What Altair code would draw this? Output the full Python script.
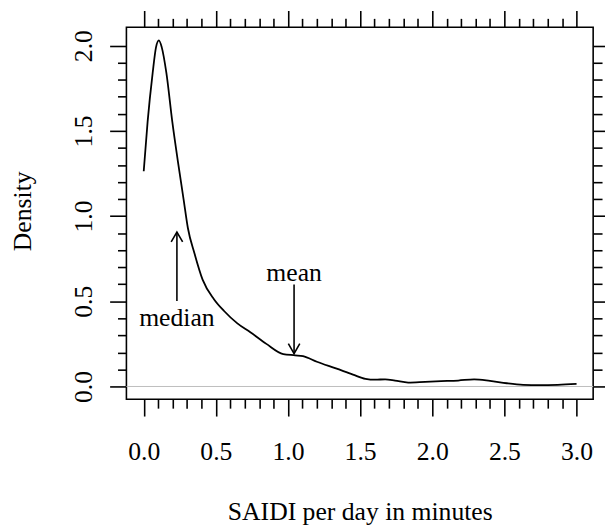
import altair as alt
import pandas as pd

# Density curve
saidi_x = [0.0, 0.027, 0.062, 0.085, 0.105, 0.125, 0.157, 0.198, 0.237, 0.276, 0.306,
           0.352, 0.408, 0.488, 0.557, 0.649, 0.739, 0.85, 0.967, 1.05, 1.104, 1.2,
           1.332, 1.45, 1.537, 1.605, 1.673, 1.742, 1.833, 1.95, 2.061, 2.18, 2.29,
           2.4, 2.517, 2.63, 2.745, 2.87, 3.0]
density = [1.263, 1.554, 1.84, 1.99, 2.031, 1.99, 1.84, 1.554, 1.32, 1.10, 0.93,
           0.78, 0.627, 0.511, 0.443, 0.37, 0.318, 0.25, 0.19, 0.183, 0.178, 0.145,
           0.106, 0.07, 0.045, 0.04, 0.042, 0.035, 0.023, 0.027, 0.031, 0.035, 0.042,
           0.033, 0.019, 0.01, 0.008, 0.01, 0.015]

# Annotations
ann_label = ["median", "mean"]
ann_x = [0.23, 1.042]
ann_tail = [0.501, 0.598]
ann_head = [0.906, 0.193]
ann_text_y = [0.357, 0.617]
ann_head_shape = ["M -0.58 1 L 0 0 L 0.58 1", "M -0.58 -1 L 0 0 L 0.58 -1"]

x_ticks = [round(i * 0.1, 1) for i in range(31)]
y_ticks = [round(i * 0.1, 1) for i in range(21)]

FONT = "Liberation Serif"
FS = 26
major_test = "abs(round(datum.value*10)) % 5 === 0"
tick_size = {"condition": {"test": major_test, "value": 17}, "value": 9}
label_expr = f"{major_test} ? format(datum.value, '.1f') : ''"

curve_df = pd.DataFrame({"x": saidi_x, "d": density})
ann_df = pd.DataFrame({"label": ann_label, "x": ann_x, "tail": ann_tail,
                       "head": ann_head, "ty": ann_text_y, "shape": ann_head_shape})
zero_df = pd.DataFrame({"z": [0.0]})

xs = alt.Scale(domain=[-0.12, 3.115], nice=False, zero=False)
ys = alt.Scale(domain=[-0.075, 2.108], nice=False, zero=False)

common_axis = dict(domain=False, grid=False, tickColor="black", tickWidth=1.6,
                   tickSize=tick_size, labelOverlap=False, labelFlush=False)

x_bottom = alt.Axis(values=x_ticks, labelExpr=label_expr, orient="bottom",
                    labelFont=FONT, labelFontSize=FS, labelColor="black",
                    labelPadding=23, labelBaseline="top",
                    title="SAIDI per day in minutes", titleFont=FONT, titleFontSize=FS,
                    titleFontWeight="normal", titleColor="black", titleY=122,
                    titleBaseline="alphabetic", **common_axis)
y_left = alt.Axis(values=y_ticks, labelExpr=label_expr, orient="left",
                  labelFont=FONT, labelFontSize=FS, labelColor="black",
                  labelAngle=270, labelAlign="center", labelBaseline="alphabetic",
                  labelPadding=18,
                  title="Density", titleFont=FONT, titleFontSize=FS,
                  titleFontWeight="normal", titleColor="black", titleAngle=270,
                  titleX=-97, titleY=186, titleBaseline="alphabetic", titleAlign="center",
                  **common_axis)
x_top = alt.Axis(values=x_ticks, orient="top", labels=False, title=None, **common_axis)
y_right = alt.Axis(values=y_ticks, orient="right", labels=False, title=None, **common_axis)

zero = alt.Chart(zero_df).mark_rule(color="#bebebe", strokeWidth=1).encode(
    y=alt.Y("z:Q", scale=ys, axis=None))

curve = alt.Chart(curve_df).mark_line(color="black", strokeWidth=1.8,
                                      interpolate="monotone").encode(
    x=alt.X("x:Q", scale=xs, axis=x_bottom),
    y=alt.Y("d:Q", scale=ys, axis=y_left))

shafts = alt.Chart(ann_df).mark_rule(color="black", strokeWidth=1.6).encode(
    x=alt.X("x:Q", scale=xs, axis=None),
    y=alt.Y("tail:Q", scale=ys, axis=None),
    y2="head:Q")

heads = alt.Chart(ann_df).mark_point(filled=False, color="black", strokeWidth=1.6,
                                     size=400, opacity=1).encode(
    x=alt.X("x:Q", scale=xs, axis=None),
    y=alt.Y("head:Q", scale=ys, axis=None),
    shape=alt.Shape("shape:N", scale=None, legend=None))

labels = alt.Chart(ann_df).mark_text(font=FONT, fontSize=FS, color="black",
                                     align="center", baseline="alphabetic").encode(
    x=alt.X("x:Q", scale=xs, axis=x_top),
    y=alt.Y("ty:Q", scale=ys, axis=y_right),
    text="label:N")

chart = alt.layer(zero, curve, shafts, heads, labels).resolve_axis(
    x="independent", y="independent"
).properties(
    width=473, height=377,
    autosize=alt.AutoSizeParams(type="none"),
    padding={"left": 120, "top": 16, "right": 12, "bottom": 131},
    background="white",
).configure_view(stroke="black", strokeWidth=1.6)

chart.save("out.html", embed_options={"renderer": "svg", "actions": False})
